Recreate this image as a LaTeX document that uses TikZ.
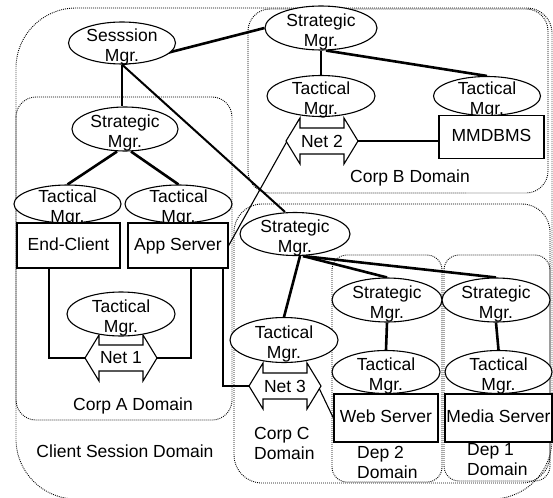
\documentclass[tikz,border=0pt]{standalone}
\usepackage{fontspec}
\setmainfont{Liberation Sans}
\usetikzlibrary{shapes.geometric,backgrounds}
\newcommand{\mynet}[4]{%
  \begin{scope}[shift={(#2,#3)}]
    \path[netline] (-36,0) -- (-22,-23) -- (-22,-13) -- (22,-13) -- (22,-23) -- (36,0) -- (22,23) -- (22,13) -- (-22,13) -- (-22,23) -- cycle;
    \coordinate (#1w) at (-36,0);
    \coordinate (#1e) at (36,0);
    \coordinate (#1ul) at (-22,-23);
    \coordinate (#1ur) at (22,-23);
    \node[inner sep=0pt] (#1) at (0,0) {#4};
  \end{scope}}
\begin{document}
\begin{tikzpicture}[x=1pt,y=-1pt,
  every node/.style={font=\fontsize{17.5}{20}\selectfont},
  dom/.style={line width=0.9pt, dash pattern=on 0.9pt off 1.1pt},
  mgr/.style={ellipse, draw, fill=white, line width=1.1pt, inner sep=0pt,
    label={[align=center,inner sep=0pt,yshift=-4pt]center:#1}},
  box/.style={draw, fill=white, line width=1.3pt, inner sep=0pt,
    text height=12.5pt, text depth=3.5pt},
  thickc/.style={line width=2.6pt},
  midc/.style={line width=2pt},
  thinc/.style={line width=1.1pt},
  netline/.style={draw, fill=white, line width=1.1pt, line join=miter},
  dlabel/.style={inner sep=0pt, align=left},
]
\useasboundingbox (0,0) rectangle (553,497);

% nets (below managers)
\mynet{n1}{121}{358}{Net 1}
\mynet{n2}{322}{141}{Net 2}
\mynet{n3}{285}{386}{Net 3}

% managers
\node[mgr={Sesssion\\Mgr.}, minimum width=107pt, minimum height=42pt] (sess) at (122,43) {};
\node[mgr={Strategic\\Mgr.}, minimum width=112pt, minimum height=44pt] (tsm) at (321,28) {};
\node[mgr={Tactical\\Mgr.}, minimum width=108pt, minimum height=41pt] (tb1) at (321,96) {};
\node[mgr={Tactical\\Mgr.}, minimum width=107pt, minimum height=39pt] (tb2) at (487,96) {};
\node[mgr={Strategic\\Mgr.}, minimum width=106pt, minimum height=44pt] (casm) at (125,129) {};
\node[mgr={Tactical\\Mgr.}, minimum width=107pt, minimum height=38pt] (tec) at (67.5,204) {};
\node[mgr={Tactical\\Mgr.}, minimum width=107pt, minimum height=38pt] (tas) at (178.5,204) {};
\node[mgr={Tactical\\Mgr.}, minimum width=108pt, minimum height=44pt] (tam) at (121,314) {};
\node[mgr={Strategic\\Mgr.}, minimum width=110pt, minimum height=43pt] (csm) at (295,234) {};
\node[mgr={Tactical\\Mgr.}, minimum width=108pt, minimum height=45pt] (cct) at (284,340) {};
\node[mgr={Strategic\\Mgr.}, minimum width=110pt, minimum height=44pt] (d2s) at (387,300) {};
\node[mgr={Strategic\\Mgr.}, minimum width=108pt, minimum height=44pt] (d1s) at (496,300) {};
\node[mgr={Tactical\\Mgr.}, minimum width=108pt, minimum height=43pt] (d2t) at (386,372) {};
\node[mgr={Tactical\\Mgr.}, minimum width=107pt, minimum height=43pt] (d1t) at (498.5,372) {};

% boxes
\node[box, minimum width=103pt, minimum height=45pt] (ec) at (68.5,245.5) {End-Client};
\node[box, minimum width=100pt, minimum height=45pt] (as) at (178,245.5) {App Server};
\node[box, minimum width=105pt, minimum height=43pt] (mm) at (491.5,137) {MMDBMS};
\node[box, minimum width=104pt, minimum height=48pt] (ws) at (386,418) {Web Server};
\node[box, minimum width=107pt, minimum height=48pt] (ms) at (498.5,418) {Media Server};

% domain labels
\node[dlabel] (lb) at (410,178) {Corp B Domain};
\node[dlabel] (la) at (133,406) {Corp A Domain};
\node[dlabel] (lcs) at (125,451) {Client Session Domain};
\node[dlabel, anchor=west] (lc) at (254,443) {Corp C\\Domain};
\node[dlabel, anchor=west] (ld2) at (357,462.5) {Dep 2\\Domain};
\node[dlabel, anchor=west] (ld1) at (467,460) {Dep 1\\Domain};

\begin{scope}[on background layer]
  % domains
  \draw[dom, rounded corners=60pt] (300,8) -- (16,8) -- (16,499) -- (552,499) -- (552,200);
  \draw[dom, rounded corners=25pt] (300,8) -- (552,8) -- (552,200);
  \draw[dom, rounded corners=20pt] (16,97) rectangle (232,420);
  \draw[dom, rounded corners=22pt] (248,9) rectangle (548,193);
  \draw[dom, rounded corners=28pt] (234,204) rectangle (550,483);
  \draw[dom, rounded corners=15pt] (332,255) rectangle (442,482);
  \draw[dom, rounded corners=15pt] (444,255) rectangle (550,481);
  % connectors
  \draw[thickc] (sess.south) -- (tsm.west);
  \draw[thickc] (sess.south) -- (sess.south |- casm.north);
  \draw[midc] (sess.south) -- ([xshift=-10pt]csm.north);
  \draw[thickc] ([xshift=-8pt]casm.south) -- (tec.north);
  \draw[thickc] ([xshift=6pt]casm.south) -- (tas.north);
  \draw[thickc] (tsm.south) -- (tsm.south |- tb1.north);
  \draw[thickc] ([xshift=5pt]tsm.south) -- (tb2.north);
  \draw[thickc] ([xshift=5pt]csm.south) -- (cct.north);
  \draw[thickc] ([xshift=8pt]csm.south) -- (d2s.north);
  \draw[thickc] ([xshift=8pt]csm.south) -- (d1s.north);
  \draw[thickc] (d2s.south) -- (d2t.north);
  \draw[thickc] (d1s.south) -- (d1t.north);
  \draw[thinc] ([xshift=-19.5pt]ec.south) |- (n1w);
  \draw[thinc] ([xshift=13pt]as.south) |- (n1e);
  \draw[thinc] ([xshift=45pt]as.south) |- (n3w);
  \draw[thinc] (n2ul) -- (as.east);
  \draw[thinc] (n2e) -- (n2e -| mm.west);
  \draw[thinc] (n3ur) -- (ws.west);
\end{scope}
\end{tikzpicture}
\end{document}
